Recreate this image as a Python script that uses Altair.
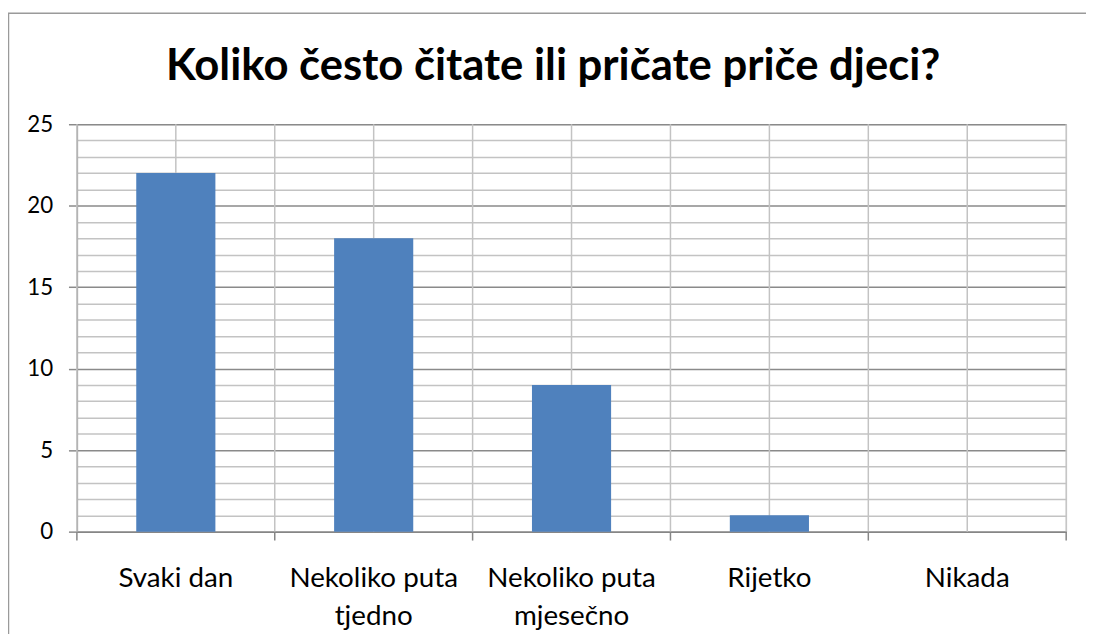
import altair as alt
import pandas as pd

categories = ["Svaki dan", "Nekoliko puta tjedno", "Nekoliko puta mjesečno", "Rijetko", "Nikada"]
label_lines = [["Svaki dan"], ["Nekoliko puta", "tjedno"], ["Nekoliko puta", "mjesečno"], ["Rijetko"], ["Nikada"]]
values = [22, 18, 9, 1, 0]
title_text = "Koliko često čitate ili pričate priče djeci?"

W, H = 998, 411
FONT = "Lato"

df = pd.DataFrame({"cat": categories, "val": values})

# label expression turning each category into its (possibly two-line) label
parts = []
for c, lines in zip(categories, label_lines):
    arr = "[" + ", ".join("'" + l + "'" for l in lines) + "]"
    parts.append(f"datum.label === '{c}' ? {arr} : ")
label_expr = "".join(parts) + "datum.label"

x_scale = alt.Scale(domain=categories, paddingInner=0, paddingOuter=0)

x_axis = alt.Axis(
    title=None, labelAngle=0, ticks=False, grid=False,
    domainColor="#868686", domainWidth=1.5,
    labelFont=FONT, labelFontSize=28, labelColor="black",
    labelPadding=33, labelLineHeight=39, labelExpr=label_expr,
    labelBaseline="top",
)
y_axis = alt.Axis(
    title=None, values=list(range(0, 26)),
    labelExpr="datum.value % 5 === 0 ? datum.label : ''",
    gridColor={"condition": {"test": "datum.value % 5 === 0", "value": "#8a8a8a"}, "value": "#c3c3c3"},
    gridWidth=1.5,
    tickOpacity={"condition": {"test": "datum.value % 5 === 0", "value": 1}, "value": 0},
    tickSize=8.5, tickColor="#8a8a8a", tickWidth=1.5,
    domainColor="#9a9a9a", domainWidth=1.5,
    labelFont=FONT, labelFontSize=22.5, labelColor="black", labelPadding=16,
)

base = alt.Chart(df)

# vertical gridlines at category centres
center_lines = base.mark_rule(color="#c3c3c3", strokeWidth=1.5).encode(
    x=alt.X("cat:N", scale=x_scale, axis=x_axis, sort=categories),
    y=alt.value(0), y2=alt.value(H),
)
# vertical gridlines at category boundaries
bound_lines = base.mark_rule(color="#c3c3c3", strokeWidth=1.5).encode(
    x=alt.X("cat:N", scale=x_scale, sort=categories, bandPosition=0),
    y=alt.value(0), y2=alt.value(H),
)
bound_ticks = base.mark_rule(color="#868686", strokeWidth=1.5).encode(
    x=alt.X("cat:N", scale=x_scale, sort=categories, bandPosition=0),
    y=alt.value(H), y2=alt.value(H + 9),
)
right_edge = alt.Chart(pd.DataFrame({"k": [0]})).mark_rule(color="#c3c3c3", strokeWidth=1.5).encode(
    x=alt.value(W), y=alt.value(0), y2=alt.value(H),
)
right_tick = alt.Chart(pd.DataFrame({"k": [0]})).mark_rule(color="#868686", strokeWidth=1.5).encode(
    x=alt.value(W), y=alt.value(H), y2=alt.value(H + 9),
)
bars = base.mark_bar(color="#4F81BD", width=alt.RelativeBandSize(0.4)).encode(
    x=alt.X("cat:N", scale=x_scale, sort=categories),
    y=alt.Y("val:Q", scale=alt.Scale(domain=[0, 25], nice=False), axis=y_axis),
)
frame = alt.Chart(pd.DataFrame({"k": [0]})).mark_rect(
    fill=None, stroke="#9a9a9a", strokeWidth=1.5
).encode(
    x=alt.value(-69), x2=alt.value(1100), y=alt.value(-112), y2=alt.value(600),
)

chart = alt.layer(center_lines, bound_lines, bound_ticks, right_edge, right_tick, bars, frame).properties(
    width=W, height=H,
    title=alt.TitleParams(
        text=title_text, font=FONT, fontSize=44, fontWeight="bold", color="black",
        anchor="middle", frame="group", dx=-18.5, offset=-112.5, baseline="alphabetic",
    ),
    autosize=alt.AutoSizeParams(type="none"),
    padding={"left": 69.5, "top": 114.5, "right": 20, "bottom": 100},
).configure_view(stroke=None).configure(background="white")

chart.save("out.html", embed_options={"renderer": "svg", "actions": False})
